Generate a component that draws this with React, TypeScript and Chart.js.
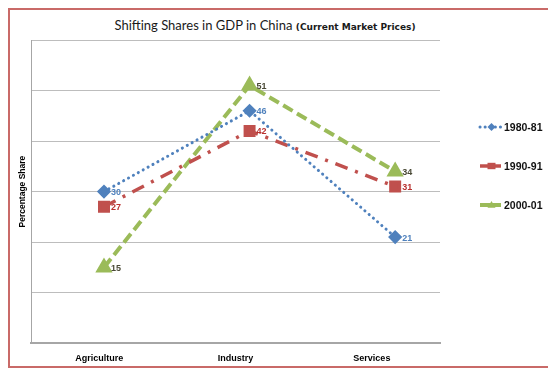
import React, { useEffect, useRef } from "react";
import { Chart, registerables } from "chart.js";

Chart.register(...registerables);

const categories = ["Agriculture", "Industry", "Services"];
const seriesNames = ["1980-81", "1990-91", "2000-01"];
const s1980 = [30, 46, 21];
const s1990 = [27, 42, 31];
const s2000 = [15, 51, 34];
const yTicks = [0, 10, 20, 30, 40, 50, 60];

const lineColors = ["#4f81bd", "#c0504d", "#9bbb59"];
const labelColors = ["#4f81bd", "#b8312f", "#4a4a36"];

const labelPlugin = {
  id: "valueLabels",
  afterDatasetsDraw(chart: any) {
    const ctx = chart.ctx;
    ctx.save();
    ctx.font = "bold 9px 'Liberation Sans', Arial, sans-serif";
    ctx.textAlign = "left";
    ctx.textBaseline = "middle";
    chart.data.datasets.forEach((ds: any, i: number) => {
      const meta = chart.getDatasetMeta(i);
      meta.data.forEach((el: any, j: number) => {
        ctx.fillStyle = labelColors[i];
        ctx.fillText(String(ds.data[j].y), el.x + 7, el.y + 1);
      });
    });
    ctx.restore();
  },
};

function drawMarker(ctx: any, style: string, x: number, y: number, r: number) {
  ctx.beginPath();
  if (style === "rectRot") {
    ctx.moveTo(x, y - r);
    ctx.lineTo(x + r, y);
    ctx.lineTo(x, y + r);
    ctx.lineTo(x - r, y);
  } else if (style === "rect") {
    ctx.rect(x - r, y - r * 0.8, 2 * r, 1.6 * r);
  } else {
    ctx.moveTo(x, y - r);
    ctx.lineTo(x + r, y + r * 0.7);
    ctx.lineTo(x - r, y + r * 0.7);
  }
  ctx.closePath();
  ctx.fill();
}

const legendPlugin = {
  id: "sideLegend",
  afterDraw(chart: any) {
    const ctx = chart.ctx;
    const ca = chart.chartArea;
    chart.data.datasets.forEach((ds: any, i: number) => {
      const y = ca.top + 87 + i * 39;
      const x0 = ca.right + 40;
      const x1 = ca.right + 61;
      ctx.save();
      ctx.strokeStyle = ds.borderColor;
      ctx.lineWidth = ds.borderWidth;
      ctx.lineCap = ds.borderCapStyle || "butt";
      ctx.setLineDash(ds.legendDash);
      ctx.beginPath();
      ctx.moveTo(x0, y);
      ctx.lineTo(x1, y);
      ctx.stroke();
      ctx.setLineDash([]);
      ctx.fillStyle = ds.pointBackgroundColor;
      drawMarker(ctx, ds.pointStyle, (x0 + x1) / 2 + 1, y, 4);
      ctx.fillStyle = "#111";
      ctx.font = "bold 10.5px 'Liberation Sans', Arial, sans-serif";
      ctx.textAlign = "left";
      ctx.textBaseline = "middle";
      ctx.fillText(seriesNames[i], x1 + 3, y + 1);
      ctx.restore();
    });
  },
};

const toPts = (arr: number[]) => arr.map((v, i) => ({ x: i, y: v }));

export default function App() {
  const ref = useRef<HTMLCanvasElement>(null);
  useEffect(() => {
    if (!ref.current) return;
    const chart = new Chart(ref.current, {
      type: "line",
      data: {
        labels: categories,
        datasets: [
          {
            label: seriesNames[0],
            data: toPts(s1980),
            xAxisID: "xd",
            borderColor: lineColors[0],
            backgroundColor: lineColors[0],
            pointBackgroundColor: lineColors[0],
            pointBorderColor: lineColors[0],
            borderWidth: 3,
            borderCapStyle: "round",
            borderDash: [0.1, 5.5],
            legendDash: [0.1, 5],
            pointStyle: "rectRot",
            pointRadius: 5,
            tension: 0,
          } as any,
          {
            label: seriesNames[1],
            data: toPts(s1990),
            xAxisID: "xd",
            borderColor: lineColors[1],
            backgroundColor: lineColors[1],
            pointBackgroundColor: lineColors[1],
            pointBorderColor: lineColors[1],
            borderWidth: 3.5,
            borderCapStyle: "butt",
            borderDash: [13, 8, 3, 8],
            legendDash: [],
            pointStyle: "rect",
            pointRadius: 6,
            tension: 0,
          } as any,
          {
            label: seriesNames[2],
            data: toPts(s2000),
            xAxisID: "xd",
            borderColor: lineColors[2],
            backgroundColor: lineColors[2],
            pointBackgroundColor: lineColors[2],
            pointBorderColor: lineColors[2],
            borderWidth: 4,
            borderCapStyle: "butt",
            borderDash: [11, 5],
            legendDash: [],
            pointStyle: "triangle",
            pointRadius: 6,
            tension: 0,
          } as any,
        ],
      },
      options: {
        animation: false,
        responsive: false,
        devicePixelRatio: 1,
        layout: { padding: { top: 30, right: 109, bottom: -8, left: 8 } },
        plugins: {
          legend: { display: false },
          tooltip: { enabled: false },
          title: { display: false },
        },
        scales: {
          x: {
            type: "category",
            offset: true,
            grid: { display: false, drawTicks: false, tickLength: 0 },
            border: { display: true, color: "#a6a6a6", width: 2 },
            ticks: {
              color: "#000",
              font: { family: "'Liberation Sans', Arial, sans-serif", size: 9, weight: "bold" },
              padding: 10,
              maxRotation: 0,
            },
          },
          xd: {
            type: "linear",
            display: false,
            min: -0.5,
            max: 2.308,
          },
          y: {
            type: "linear",
            min: yTicks[0],
            max: yTicks[yTicks.length - 1],
            afterBuildTicks: (axis: any) => {
              axis.ticks = yTicks.map((v) => ({ value: v }));
            },
            grid: { color: "#bdbdbd", lineWidth: 1, drawTicks: false, tickLength: 0 },
            border: { display: true, color: "#a6a6a6", width: 1 },
            ticks: { display: false },
            title: {
              display: true,
              text: "Percentage Share",
              color: "#000",
              font: { family: "'Liberation Sans', Arial, sans-serif", size: 8.5, weight: "bold" },
              padding: { top: 0, bottom: 3 },
            },
          },
        },
      } as any,
      plugins: [labelPlugin, legendPlugin],
    });
    return () => chart.destroy();
  }, []);

  return (
    <div
      style={{
        position: "relative",
        width: 539,
        height: 356,
        border: "2px solid #c96a68",
        background: "#fff",
      }}
    >
      <div
        style={{
          position: "absolute",
          left: 255,
          top: 6,
          transform: "translateX(-50%)",
          whiteSpace: "nowrap",
          lineHeight: "18px",
          color: "#1a1a1a",
        }}
      >
        <span style={{ fontFamily: "Lato, sans-serif", fontSize: 13 }}>
          Shifting Shares in GDP in China{" "}
        </span>
        <span
          style={{
            fontFamily: "'DejaVu Sans', sans-serif",
            fontSize: 9,
            fontWeight: "bold",
          }}
        >
          (Current Market Prices)
        </span>
      </div>
      <canvas
        ref={ref}
        width={539}
        height={356}
        style={{ position: "absolute", left: 0, top: 0, width: 539, height: 356 }}
      />
    </div>
  );
}
